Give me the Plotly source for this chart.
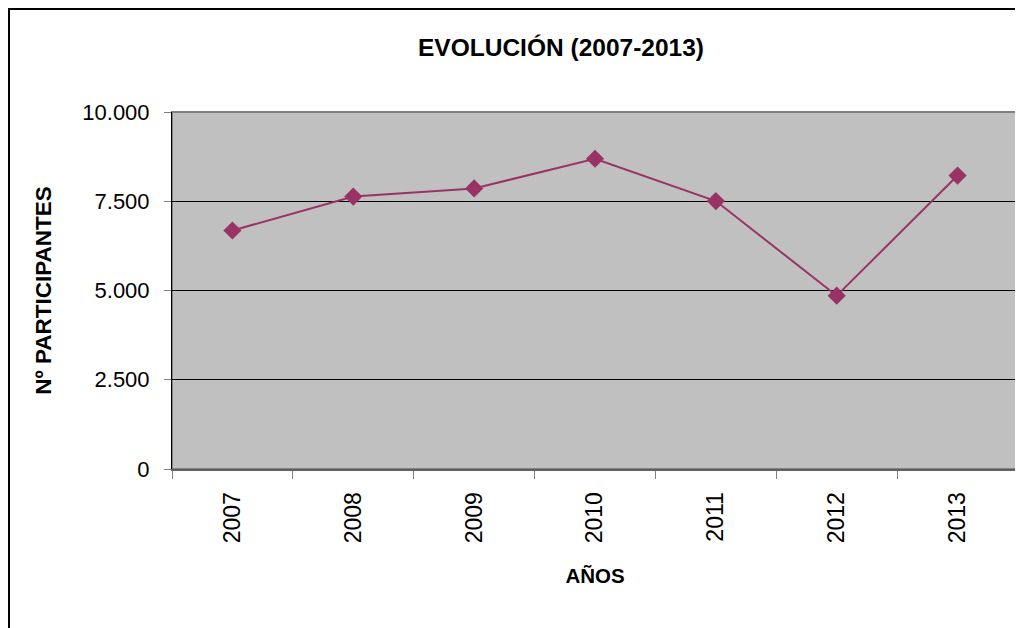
import plotly.graph_objects as go

# data
years = ["2007", "2008", "2009", "2010", "2011", "2012", "2013"]
participants = [6680, 7630, 7860, 8690, 7505, 4855, 8220]
y_ticks = [0, 2500, 5000, 7500, 10000]

# page body adds an 8px margin, so the figure is drawn 8px smaller
W, H = 1015, 620
L, R, T, B = 164, 5, 104, 159
pw, ph = W - L - R, H - T - B


def px(x):
    return (x - L) / pw


def py(y):
    return (H - B - y) / ph


line_col = "#993366"
bold_font = "Liberation Sans, Arial, sans-serif"

fig = go.Figure()
fig.add_trace(go.Scatter(
    x=years,
    y=participants,
    mode="lines+markers",
    line=dict(color=line_col, width=2),
    marker=dict(symbol="diamond", size=14, color=line_col),
    showlegend=False,
))

# outer chart frame (left / top edges visible)
fig.add_shape(type="rect", xref="paper", yref="paper",
              x0=px(1), x1=px(1040), y0=py(650), y1=py(1),
              line=dict(color="black", width=2), layer="above")
# plot area border top/right
fig.add_shape(type="rect", xref="paper", yref="paper",
              x0=0, x1=1, y0=0, y1=1,
              line=dict(color="#808080", width=2), layer="below")

fig.update_layout(
    width=W, height=H,
    margin=dict(l=L, r=R, t=T, b=B),
    paper_bgcolor="white",
    plot_bgcolor="#C0C0C0",
    separators=",.",
    font=dict(family="Liberation Sans, Arial, sans-serif", color="black"),
    title=dict(
        text="EVOLUCIÓN (2007-2013)",
        font=dict(family=bold_font, size=24.5, weight="bold"),
        x=553 / W, xanchor="center", xref="container",
        y=1 - 39 / H, yanchor="middle", yref="container",
    ),
    xaxis=dict(
        type="category",
        range=[-0.5, len(years) - 0.5],
        tickangle=-90,
        tickson="boundaries",
        ticks="outside", ticklen=8, tickcolor="#808080",
        tickfont=dict(size=23),
        showgrid=False,
        showline=True, linecolor="#606060", linewidth=2,
        ticklabelstandoff=12,
        title=dict(text="AÑOS", standoff=26,
                   font=dict(family=bold_font, size=20.5, weight="bold")),
    ),
    yaxis=dict(
        range=[0, 10000],
        tickvals=y_ticks,
        tickformat=",d",
        ticks="outside", ticklen=7, tickcolor="#808080",
        tickfont=dict(size=22),
        showgrid=True, gridcolor="black", gridwidth=1,
        zeroline=False,
        showline=True, linecolor="black", linewidth=1,
        ticklabelstandoff=10,
        title=dict(text="Nº PARTICIPANTES", standoff=24,
                   font=dict(family=bold_font, size=22.5, weight="bold")),
    ),
)

fig.write_html("out.html")
